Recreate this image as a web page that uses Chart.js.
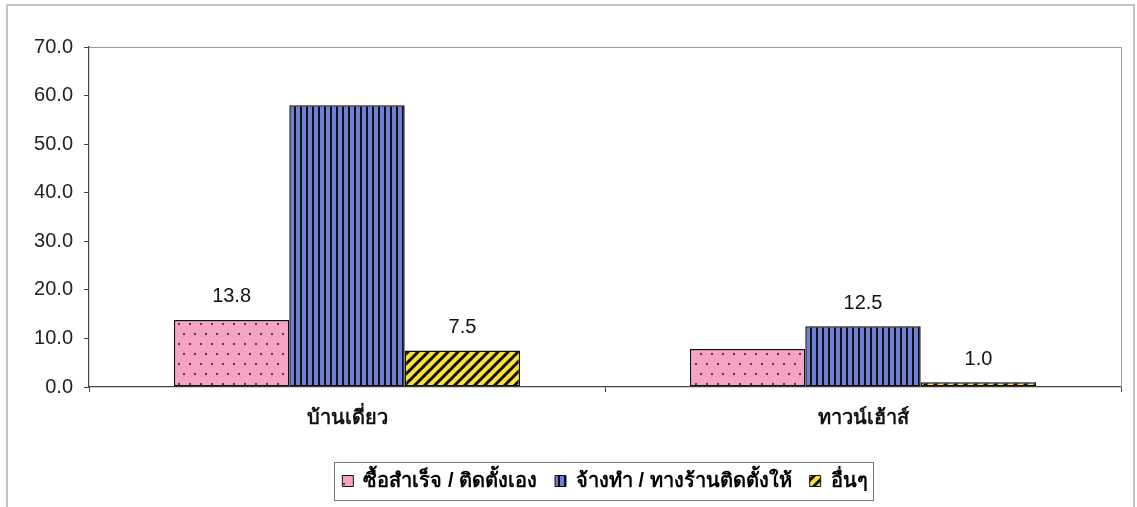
<!DOCTYPE html>
<html>
<head>
<meta charset="utf-8">
<script src="https://cdn.jsdelivr.net/npm/chart.js@4/dist/chart.umd.min.js"></script>
<style>
  html, body { margin: 0; padding: 0; background: #fff; }
  #wrap { width: 1137px; height: 507px; }
</style>
</head>
<body>
<div id="wrap"><canvas id="mainChart" width="1137" height="507"></canvas></div>
<script>
// data
const categories = ['บ้านเดี่ยว', 'ทาวน์เฮ้าส์'];
const seriesNames = ['ซื้อสำเร็จ / ติดตั้งเอง', 'จ้างทำ / ทางร้านติดตั้งให้', 'อื่นๆ'];
const buyReady = [13.8, 7.8];
const hired = [58.0, 12.5];
const others = [7.5, 1.0];
// which bars carry a value label in the original
const buyReadyShown = [true, false];
const hiredShown = [false, true];
const othersShown = [true, true];
const yTicks = [0, 10, 20, 30, 40, 50, 60, 70];

const FONT = "'Liberation Sans', Arial, 'DejaVu Sans', sans-serif";

// fill patterns
function makePattern(w, h, draw) {
    const c = document.createElement('canvas');
    c.width = w; c.height = h;
    draw(c.getContext('2d'));
    return c.getContext('2d').createPattern(c, 'repeat');
}
const pinkDots = makePattern(22, 20, g => {
    g.fillStyle = '#f6a3c4'; g.fillRect(0, 0, 22, 20);
    g.fillStyle = '#5e3448';
    [[2, 3], [13, 3], [7, 13], [18, 13]].forEach(p => g.fillRect(p[0], p[1], 2, 2));
});
const blueStripes = makePattern(6, 6, g => {
    g.fillStyle = '#6f7fd6'; g.fillRect(0, 0, 6, 6);
    g.fillStyle = '#111'; g.fillRect(0, 0, 2, 6);
});
const yellowDiag = makePattern(10, 10, g => {
    g.fillStyle = '#fbe03c'; g.fillRect(0, 0, 10, 10);
    g.strokeStyle = '#111'; g.lineWidth = 3;
    g.beginPath();
    g.moveTo(-5, 5); g.lineTo(5, -5);
    g.moveTo(0, 10); g.lineTo(10, 0);
    g.moveTo(5, 15); g.lineTo(15, 5);
    g.stroke();
});

const shownFlags = [buyReadyShown, hiredShown, othersShown];

// value labels, plot frame, outer border, legend frame
const decorPlugin = {
    id: 'decor',
    afterDraw(chart) {
        const ctx = chart.ctx;
        const a = chart.chartArea;
        ctx.save();
        // outer border
        ctx.strokeStyle = '#b0b0b0'; ctx.lineWidth = 1.5;
        ctx.strokeRect(7, 5, 1127, 520);
        // plot frame top/right
        ctx.strokeStyle = '#999'; ctx.lineWidth = 1;
        ctx.beginPath();
        ctx.moveTo(a.left, a.top + 0.5); ctx.lineTo(a.right + 0.5, a.top + 0.5);
        ctx.lineTo(a.right + 0.5, a.bottom);
        ctx.stroke();
        // legend frame
        const lg = chart.legend;
        if (lg && lg.legendHitBoxes.length) {
            const hb = lg.legendHitBoxes;
            const x0 = Math.min(...hb.map(b => b.left)) - 8;
            const x1 = Math.max(...hb.map(b => b.left + b.width)) + 6;
            const y0 = Math.min(...hb.map(b => b.top)) - 9;
            const y1 = Math.max(...hb.map(b => b.top + b.height)) + 9;
            ctx.strokeStyle = '#777'; ctx.lineWidth = 1;
            ctx.strokeRect(Math.round(x0) + 0.5, Math.round(y0) + 0.5, Math.round(x1 - x0), Math.round(y1 - y0));
        }
        // value labels
        ctx.fillStyle = '#111';
        ctx.font = '20px ' + FONT;
        ctx.textAlign = 'center';
        ctx.textBaseline = 'bottom';
        chart.data.datasets.forEach((ds, di) => {
            chart.getDatasetMeta(di).data.forEach((bar, i) => {
                if (!shownFlags[di][i]) return;
                ctx.fillText(ds.data[i].toFixed(1), bar.x, bar.y - 13);
            });
        });
        ctx.restore();
    }
};

const ctx = document.getElementById('mainChart').getContext('2d');
new Chart(ctx, {
    type: 'bar',
    data: {
        labels: categories,
        datasets: [
            { label: seriesNames[0], data: buyReady, backgroundColor: pinkDots },
            { label: seriesNames[1], data: hired, backgroundColor: blueStripes },
            { label: seriesNames[2], data: others, backgroundColor: yellowDiag }
        ].map(d => Object.assign(d, {
            borderColor: '#111', borderWidth: 1.5, borderSkipped: false,
            barPercentage: 1.0, categoryPercentage: 0.671
        }))
    },
    options: {
        responsive: false,
        animation: false,
        layout: { padding: { left: 0, top: 47, right: 16, bottom: 6 } },
        scales: {
            x: {
                offset: true,
                grid: { display: true, offset: true, drawOnChartArea: false, color: '#444', tickLength: 5 },
                border: { color: '#444', width: 1.2 },
                ticks: { color: '#111', font: { family: FONT, size: 20, weight: 'bold' }, padding: 14 },
                afterFit: s => { s.height = 66; }
            },
            y: {
                min: 0, max: 70,
                afterBuildTicks: s => { s.ticks = yTicks.map(v => ({ value: v })); },
                grid: { display: true, drawOnChartArea: false, color: '#444', tickLength: 5 },
                border: { color: '#444', width: 1.2 },
                ticks: {
                    color: '#222', font: { family: FONT, size: 20 }, padding: 11,
                    callback: v => v.toFixed(1)
                },
                afterFit: s => { s.width = 89; }
            }
        },
        plugins: {
            legend: {
                position: 'bottom',
                fullSize: false,
                labels: {
                    color: '#111', font: { family: FONT, size: 20, weight: 'bold' },
                    boxWidth: 11, boxHeight: 11, padding: 18,
                    generateLabels: chart => chart.data.datasets.map((d, i) => ({
                        text: d.label, fillStyle: d.backgroundColor, strokeStyle: '#111',
                        lineWidth: 1, datasetIndex: i, hidden: false
                    }))
                }
            },
            tooltip: { enabled: false }
        }
    },
    plugins: [decorPlugin]
});
</script>
</body>
</html>
